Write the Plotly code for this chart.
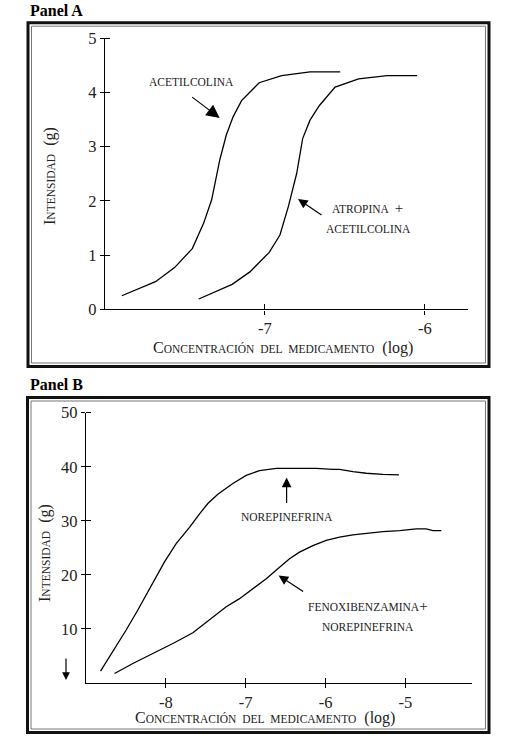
import plotly.graph_objects as go

W, H = 529, 754

# ---------------- Data ----------------
# Panel A: log concentration vs intensity (g)
ach_x = [-7.895, -7.684, -7.565, -7.454, -7.383, -7.333, -7.282, -7.241, -7.199, -7.146, -7.036, -6.895, -6.718, -6.529]
ach_y = [0.25, 0.51, 0.77, 1.12, 1.59, 2.02, 2.76, 3.22, 3.55, 3.85, 4.18, 4.31, 4.38, 4.38]
atr_x = [-7.414, -7.205, -7.094, -6.973, -6.906, -6.854, -6.801, -6.764, -6.718, -6.659, -6.561, -6.414, -6.236, -6.048]
atr_y = [0.19, 0.46, 0.69, 1.05, 1.37, 1.89, 2.51, 3.15, 3.49, 3.76, 4.10, 4.25, 4.31, 4.31]
a_xticks = [-7, -6]
a_yticks = [0, 1, 2, 3, 4, 5]

# Panel B
nor_x = [-8.818, -8.706, -8.622, -8.497, -8.351, -8.163, -8.017, -7.871, -7.704, -7.578, -7.474, -7.349,
         -7.161, -6.994, -6.827, -6.618, -6.326, -6.117, -5.908, -5.825, -5.658, -5.491, -5.282, -5.081]
nor_y = [2.2, 4.8, 6.7, 9.8, 13.5, 18.4, 22.4, 25.8, 28.8, 31.3, 33.2, 34.9,
         36.9, 38.4, 39.3, 39.7, 39.7, 39.7, 39.5, 39.5, 39.1, 38.8, 38.6, 38.5]
fen_x = [-8.643, -8.413, -8.163, -7.912, -7.662, -7.411, -7.244, -7.077, -6.910, -6.743, -6.576, -6.451,
         -6.326, -6.159, -5.992, -5.825, -5.658, -5.491, -5.282, -5.073, -4.864, -4.739, -4.656, -4.551]
fen_y = [1.75, 3.6, 5.45, 7.3, 9.3, 12.2, 14.1, 15.6, 17.5, 19.3, 21.4, 23.0,
         24.2, 25.4, 26.4, 27.0, 27.4, 27.7, 28.0, 28.2, 28.5, 28.5, 28.2, 28.2]
b_xticks = [-8, -7, -6, -5]
b_yticks = [10, 20, 30, 40, 50]

FONT = "Liberation Serif, Times New Roman, DejaVu Serif, serif"


def px(x):
    return x / W


def py(y):
    return 1 - y / H


def sc(first, rest, tail, small=11.5):
    return f"{first}<span style='font-size:{small}px'>{rest}</span>{tail}"


fig = go.Figure()
line = dict(color="black", width=1.3)
fig.add_trace(go.Scatter(x=ach_x, y=ach_y, mode="lines", line=line, xaxis="x", yaxis="y", showlegend=False, hoverinfo="skip"))
fig.add_trace(go.Scatter(x=atr_x, y=atr_y, mode="lines", line=line, xaxis="x", yaxis="y", showlegend=False, hoverinfo="skip"))
fig.add_trace(go.Scatter(x=nor_x, y=nor_y, mode="lines", line=line, xaxis="x2", yaxis="y2", showlegend=False, hoverinfo="skip"))
fig.add_trace(go.Scatter(x=fen_x, y=fen_y, mode="lines", line=line, xaxis="x2", yaxis="y2", showlegend=False, hoverinfo="skip"))

axis_common = dict(showline=True, linecolor="black", linewidth=1.4, showgrid=False, zeroline=False,
                   ticks="outside", ticklen=4, tickwidth=1.2, tickcolor="black",
                   tickfont=dict(family=FONT, size=16.5, color="#222"))


def minor(vals):
    return dict(ticks="inside", tickvals=vals, ticklen=5, tickcolor="black", tickwidth=1.2)


fig.update_layout(
    width=W, height=H,
    margin=dict(l=0, r=0, t=0, b=0, autoexpand=False),
    paper_bgcolor="white", plot_bgcolor="white",
    font=dict(family=FONT),
    xaxis=dict(domain=[px(105), px(468)], range=[-8.0, -5.73], tickvals=a_xticks, ticktext=["-7", "-6"],
               anchor="y", minor=minor(a_xticks), **axis_common),
    yaxis=dict(domain=[py(309.3), py(38.3)], range=[0, 5], tickvals=a_yticks,
               anchor="x", minor=minor(a_yticks[1:]), **axis_common),
    xaxis2=dict(domain=[px(86), px(471.7)], range=[-9.0, -4.17], tickvals=b_xticks,
                ticktext=["-8", "-7", "-6", "-5"], anchor="y2", minor=minor(b_xticks), **axis_common),
    yaxis2=dict(domain=[py(683.0), py(412.7)], range=[0, 50], tickvals=b_yticks,
                anchor="x2", minor=minor(b_yticks), **axis_common),
)

shapes = []
for (x0, y0, x1, y1) in [(28, 22.7, 489, 366.5), (27.5, 397.5, 489, 732.5)]:
    shapes.append(dict(type="rect", xref="paper", yref="paper", x0=px(x0), x1=px(x1), y0=py(y1), y1=py(y0),
                       line=dict(color="#111", width=3)))
    shapes.append(dict(type="rect", xref="paper", yref="paper", x0=px(x0 + 3.5), x1=px(x1 - 3.5),
                       y0=py(y1 - 3.5), y1=py(y0 + 3.5), line=dict(color="#777", width=1)))
fig.update_layout(shapes=shapes)

ann = []
lab = dict(family=FONT, size=11.5, color="#222")
C = dict(xanchor="center", yanchor="middle")
# Panel titles
ann.append(dict(text="<b>Panel A</b>", x=px(28), y=py(11), xref="paper", yref="paper", xanchor="left",
                yanchor="middle", showarrow=False, font=dict(family=FONT, size=16, color="black")))
ann.append(dict(text="<b>Panel B</b>", x=px(28), y=py(384), xref="paper", yref="paper", xanchor="left",
                yanchor="middle", showarrow=False, font=dict(family=FONT, size=16, color="black")))
# Axis titles
xt = sc("C", "ONCENTRACIÓN&nbsp;&nbsp;DEL&nbsp;&nbsp;MEDICAMENTO", "&nbsp;&nbsp;(log)")
yt = sc("I", "NTENSIDAD", "&nbsp;&nbsp;(g)")
tfont = dict(family=FONT, size=16, color="#222")
ann.append(dict(text=xt, x=px(283), y=py(348), xref="paper", yref="paper", showarrow=False, font=tfont, **C))
ann.append(dict(text=yt, x=px(50), y=py(176), xref="paper", yref="paper", showarrow=False, font=tfont,
                textangle=-90, **C))
ann.append(dict(text=xt, x=px(265), y=py(717.5), xref="paper", yref="paper", showarrow=False, font=tfont, **C))
ann.append(dict(text=yt, x=px(45), y=py(553), xref="paper", yref="paper", showarrow=False, font=tfont,
                textangle=-90, **C))

# Panel A labels & arrows
ann.append(dict(text="ACETILCOLINA", x=-7.458, y=4.19, xref="x", yref="y", showarrow=False, font=lab, **C))
ann.append(dict(text="", x=-7.283, y=3.53, xref="x", yref="y", ax=-29, ay=-22, showarrow=True,
                arrowhead=2, arrowsize=2.2, arrowwidth=1.2, arrowcolor="black"))
ann.append(dict(text="ATROPINA&nbsp;&nbsp;<span style='font-size:15px'>+</span>", x=-6.36, y=1.87, xref="x",
                yref="y", showarrow=False, font=lab, **C))
ann.append(dict(text="ACETILCOLINA", x=-6.353, y=1.48, xref="x", yref="y", showarrow=False, font=lab, **C))
ann.append(dict(text="", x=-6.793, y=2.035, xref="x", yref="y", ax=25, ay=17, showarrow=True,
                arrowhead=2, arrowsize=1.6, arrowwidth=1.2, arrowcolor="black"))

# Panel B labels & arrows
ann.append(dict(text="NOREPINEFRINA", x=-6.488, y=30.7, xref="x2", yref="y2", showarrow=False, font=lab, **C))
ann.append(dict(text="", x=-6.488, y=38.0, xref="x2", yref="y2", ax=0, ay=27, showarrow=True,
                arrowhead=2, arrowsize=1.6, arrowwidth=1.2, arrowcolor="black"))
ann.append(dict(text="FENOXIBENZAMINA<span style='font-size:15px'>+</span>", x=-5.473, y=14.3, xref="x2",
                yref="y2", showarrow=False, font=lab, **C))
ann.append(dict(text="NOREPINEFRINA", x=-5.473, y=10.3, xref="x2", yref="y2", showarrow=False, font=lab, **C))
ann.append(dict(text="", x=-6.588, y=19.9, xref="x2", yref="y2", ax=26, ay=17, showarrow=True,
                arrowhead=2, arrowsize=1.6, arrowwidth=1.2, arrowcolor="black"))
ann.append(dict(text="", x=px(66), y=py(680), xref="paper", yref="paper", ax=0, ay=-23, showarrow=True,
                arrowhead=2, arrowsize=1.3, arrowwidth=1.2, arrowcolor="black"))

fig.update_layout(annotations=ann)
fig.write_html("out.html", config={"displayModeBar": False},
               post_script="document.body.style.margin='0px';document.body.style.overflow='hidden';")
